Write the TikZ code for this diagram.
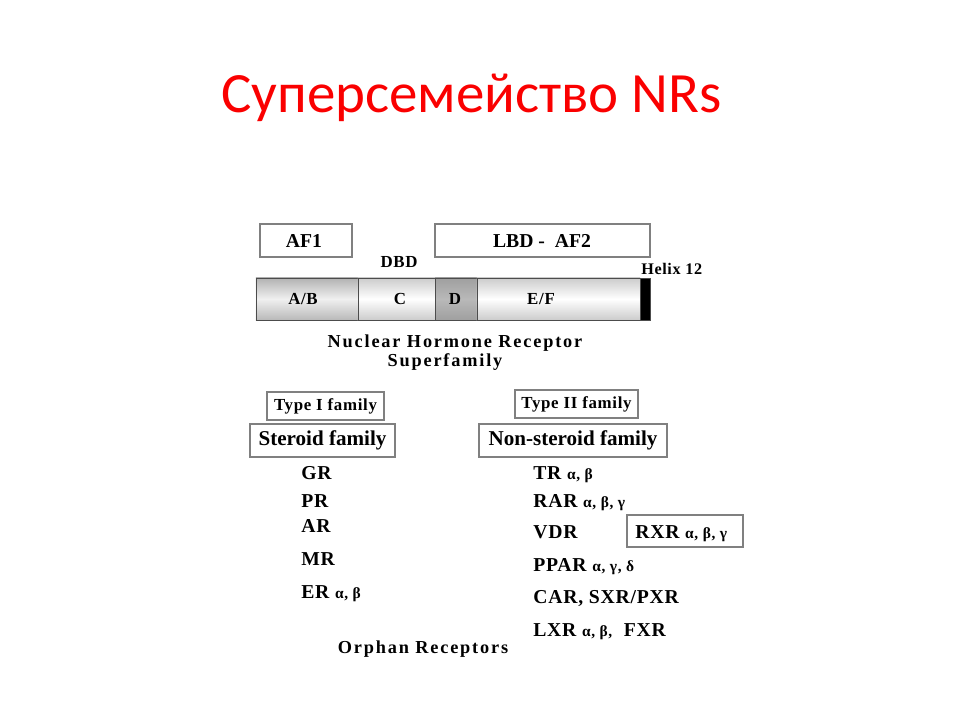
\documentclass[tikz,border=0pt]{standalone}
\usepackage{fontspec}
\setmainfont{Liberation Serif}
\newfontfamily\titlefont{Carlito}
\newfontfamily\listfont{Liberation Serif}[LetterSpace=4]
\newfontfamily\widefont{Liberation Serif}[LetterSpace=10]
\usetikzlibrary{positioning}
\definecolor{titlered}{RGB}{250,0,0}

\begin{document}
\begin{tikzpicture}[x=0.025cm, y=-0.025cm,
    txt/.style={font=\listfont\bfseries\fontsize{14}{16}\selectfont, inner sep=0pt},
    small/.style={font=\listfont\bfseries\fontsize{12}{14}\selectfont, inner sep=0pt},
    tag/.style={draw=gray, line width=0.8pt, rectangle, inner sep=0pt},
    seg/.style={draw=black!70, line width=0.6pt, rectangle, inner sep=0pt, minimum height=1.05cm,
        font=\listfont\bfseries\fontsize{12}{14}\selectfont}]
    \useasboundingbox (0,0) rectangle (960,720);
    % title
    \node[anchor=base, font=\titlefont\fontsize{40.5}{46}\selectfont, text=titlered, inner sep=0pt] (title) at (471.5,113) {Суперсемейство NRs};

    % domains
    \node[tag, minimum width=2.3cm, minimum height=0.825cm] (af1) at (306,240.5) {};
    \node[txt, anchor=base, font=\bfseries\fontsize{14}{16}\selectfont] (af1txt) at (304,248) {AF1};
    \node[tag, minimum width=5.375cm, minimum height=0.825cm] (lbd) at (542.5,240.5) {};
    \node[txt, anchor=base, font=\bfseries\fontsize{14}{16}\selectfont] (lbdtxt) at (542,248) {LBD -\ \ AF2};
    \node[small, anchor=base] (dbd) at (399,268) {DBD};
    \node[small, anchor=base west, font=\listfont\bfseries\fontsize{11.5}{13}\selectfont] (helix) at (641,275) {Helix 12};

    % receptor bar
    \node[seg, minimum width=2.55cm, top color=gray!60, bottom color=gray!55, middle color=gray!12] (ab) at (307,299) {};
    \node[seg, minimum width=1.925cm, top color=gray!40, bottom color=gray!40, middle color=white] (c) at (396.5,299) {};
    \node[seg, minimum width=1.05cm, top color=gray!75, bottom color=gray!75, middle color=gray!55] (d) at (456,299) {};
    \node[seg, minimum width=4.075cm, top color=gray!40, bottom color=gray!40, middle color=white] (ef) at (558.5,299) {};
    \node[seg, minimum width=0.25cm, fill=black] (h12) at (645,299) {};
    \node[small] (abtxt) at (303,299) {A/B};
    \node[small] (ctxt) at (400,299) {C};
    \node[small] (dtxt) at (455,299) {D};
    \node[small] (eftxt) at (541,299) {E/F};

    \node[txt, anchor=base, font=\widefont\bfseries\fontsize{13}{15}\selectfont] (nhr) at (455,348) {Nuclear Hormone Receptor};
    \node[txt, anchor=base, font=\widefont\bfseries\fontsize{13}{15}\selectfont] (superfam) at (445,367) {Superfamily};

    % families
    \node[tag, minimum width=2.925cm, minimum height=0.7cm, font=\listfont\bfseries\fontsize{12}{14}\selectfont] (type1) at (325.5,406) {Type I family};
    \node[tag, minimum width=3.075cm, minimum height=0.7cm, font=\listfont\bfseries\fontsize{12}{14}\selectfont] (type2) at (576.5,404) {Type II family};
    \node[tag, minimum width=3.625cm, minimum height=0.825cm, font=\bfseries\fontsize{15}{17}\selectfont] (steroid) at (322.5,440.5) {Steroid family};
    \node[tag, minimum width=4.7cm, minimum height=0.825cm, font=\bfseries\fontsize{15}{17}\selectfont] (nonsteroid) at (573,440.5) {Non-steroid family};

    % steroid receptors
    \node[txt, anchor=base west] (gr) at (301,480) {GR};
    \node[txt, anchor=base west] (pr) at (301,507) {PR};
    \node[txt, anchor=base west] (ar) at (301,533) {AR};
    \node[txt, anchor=base west] (mr) at (301,565) {MR};
    \node[txt, anchor=base west] (er) at (301,598) {ER {\fontsize{11}{12}\selectfont α, β}};

    % non-steroid receptors
    \node[txt, anchor=base west] (tr) at (533,480) {TR {\fontsize{11}{12}\selectfont α, β}};
    \node[txt, anchor=base west] (rar) at (533,507) {RAR {\fontsize{11}{12}\selectfont α, β, γ}};
    \node[txt, anchor=base west] (vdr) at (533,538) {VDR};
    \node[txt, anchor=base west] (ppar) at (533,572) {PPAR {\fontsize{11}{12}\selectfont α, γ, δ}};
    \node[txt, anchor=base west] (car) at (533,603) {CAR, SXR/PXR};
    \node[txt, anchor=base west] (lxr) at (533,636) {LXR {\fontsize{11}{12}\selectfont α, β,}\ \ FXR};
    \node[tag, minimum width=2.9cm, minimum height=0.8cm] (rxrbox) at (685,531) {};
    \node[txt, anchor=base west] (rxr) at (635,538) {RXR {\fontsize{11}{12}\selectfont α, β, γ}};

    \node[txt, anchor=base, font=\widefont\bfseries\fontsize{13}{15}\selectfont] (orphan) at (423,653) {Orphan Receptors};
\end{tikzpicture}
\end{document}
